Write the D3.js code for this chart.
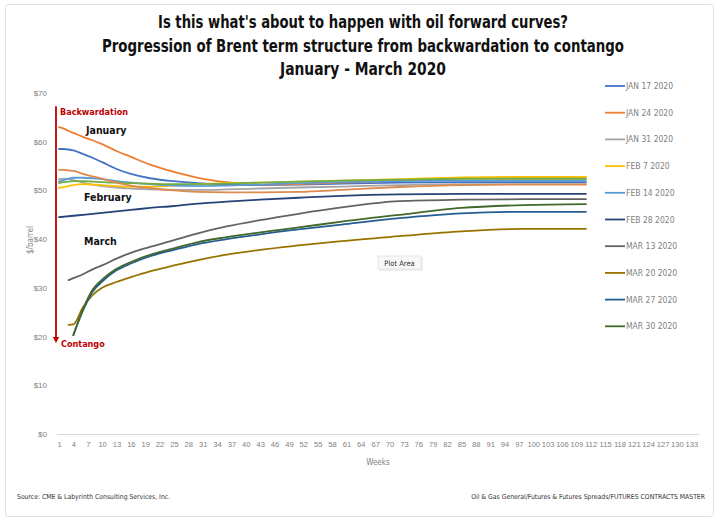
<!DOCTYPE html>
<html>
<head>
<meta charset="utf-8">
<script src="https://cdn.jsdelivr.net/npm/d3@7"></script>
<style>
  body { margin: 0; background: #fff; }
  text { font-family: "Liberation Sans Narrow", "DejaVu Sans Condensed", "Liberation Sans", sans-serif; }
</style>
</head>
<body>
<div id="chart"></div>
<script>
// Chart values
var weeks = [1, 2, 3, 4, 6, 8, 10, 13, 16, 20, 25, 30, 36, 43, 51, 60, 72, 85, 98, 111];

var jan17 = [58.5, 58.5, 58.4, 58.2, 57.5, 56.7, 55.8, 54.4, 53.4, 52.5, 51.9, 51.5, 51.2, 51.1, 51.2, 51.4, 51.6, 51.7, 51.7, 51.7];
var jan24 = [63.0, 62.7, 62.2, 61.8, 61.0, 60.3, 59.5, 58.1, 56.9, 55.3, 53.8, 52.6, 51.7, 51.2, 51.3, 51.6, 52.0, 52.5, 52.5, 52.5];
var jan31 = [52.3, 52.4, 52.3, 52.1, 51.6, 51.2, 50.9, 50.6, 50.4, 50.2, 50.1, 50.1, 50.2, 50.4, 50.6, 50.8, 51.1, 51.3, 51.3, 51.3];
var feb7  = [50.5, 50.7, 50.9, 51.1, 51.3, 51.2, 51.1, 50.9, 50.8, 50.8, 51.0, 51.3, 51.5, 51.6, 51.8, 52.0, 52.3, 52.7, 52.8, 52.8];
var feb14 = [51.8, 52.1, 52.4, 52.6, 52.6, 52.5, 52.3, 51.9, 51.6, 51.3, 51.0, 50.9, 51.0, 51.2, 51.5, 51.7, 51.9, 52.0, 52.0, 52.0];
var feb21 = [51.5, 51.7, 51.8, 51.9, 51.9, 51.8, 51.7, 51.6, 51.5, 51.4, 51.3, 51.3, 51.4, 51.6, 51.8, 52.0, 52.2, 52.4, 52.4, 52.4];
var feb28 = [44.5, 44.6, 44.7, 44.8, 45.0, 45.2, 45.4, 45.7, 46.0, 46.4, 46.8, 47.3, 47.7, 48.1, 48.5, 48.9, 49.2, 49.3, 49.3, 49.3];
var mar6  = [54.2, 54.2, 54.1, 54.0, 53.4, 52.9, 52.4, 51.6, 51.0, 50.5, 50.0, 49.7, 49.6, 49.6, 49.7, 50.1, 50.7, 51.1, 51.2, 51.2];
var mar13 = [null, null, 31.6, 32.0, 32.8, 33.8, 34.6, 36.0, 37.2, 38.4, 39.8, 41.2, 42.6, 43.9, 45.2, 46.5, 47.8, 48.1, 48.2, 48.2];
var mar20 = [null, null, 22.4, 22.5, 26.0, 28.5, 30.0, 31.2, 32.2, 33.4, 34.6, 35.7, 36.8, 37.8, 38.7, 39.6, 40.6, 41.6, 42.1, 42.1];
var mar27 = [null, null, null, 20.3, 25.3, 29.2, 31.3, 33.6, 35.0, 36.5, 37.8, 39.0, 40.0, 41.0, 42.0, 43.0, 44.3, 45.3, 45.6, 45.6];
var mar30 = [null, null, null, 20.3, 25.6, 29.6, 31.7, 33.9, 35.3, 36.8, 38.1, 39.4, 40.4, 41.4, 42.4, 43.6, 45.0, 46.4, 47.0, 47.2];

var seriesNames = ["JAN 17 2020", "JAN 24 2020", "JAN 31 2020", "FEB 7 2020", "FEB 14 2020", "FEB 21 2020",
                   "FEB 28 2020", "MAR 6 2020", "MAR 13 2020", "MAR 20 2020", "MAR 27 2020", "MAR 30 2020"];
var seriesValues = [jan17, jan24, jan31, feb7, feb14, feb21, feb28, mar6, mar13, mar20, mar27, mar30];
// only these entries are left in the legend
var legendNames = ["JAN 17 2020", "JAN 24 2020", "JAN 31 2020", "FEB 7 2020", "FEB 14 2020",
                   "FEB 28 2020", "MAR 13 2020", "MAR 20 2020", "MAR 27 2020", "MAR 30 2020"];

var yTicks = [0, 10, 20, 30, 40, 50, 60, 70];
var xTickLabels = d3.range(1, 134, 3);

// Excel office palette
var colors = ["#4472C4", "#ED7D31", "#A5A5A5", "#FFC000", "#5B9BD5", "#70AD47",
              "#264478", "#DC8A4E", "#636363", "#997300", "#255E91", "#43682B"];

var svgWidth = 720;
var svgHeight = 523;

var svg = d3.select("#chart")
  .append("svg")
  .attr("width", svgWidth)
  .attr("height", svgHeight);

// outer frame
svg.append("rect")
  .attr("x", 5.5).attr("y", 4.5)
  .attr("width", 708).attr("height", 512)
  .attr("rx", 3)
  .attr("fill", "#fff")
  .attr("stroke", "#e0e0e0");

// Titles
var titles = [
  ["Is this what's about to happen with oil forward curves?", 28, 410],
  ["Progression of Brent term structure from backwardation to contango", 52, 522],
  ["January - March 2020", 75, 166]
];
svg.selectAll(".title")
  .data(titles)
  .enter()
  .append("text")
  .attr("class", "title")
  .attr("x", 363)
  .attr("y", d => d[1])
  .attr("text-anchor", "middle")
  .attr("font-size", "17px")
  .attr("font-weight", "bold")
  .attr("fill", "#111")
  .attr("textLength", d => d[2])
  .attr("lengthAdjust", "spacingAndGlyphs")
  .text(d => d[0]);

// Scales
var x = d3.scaleLinear().domain([0.5, 134.5]).range([56.6, 698.5]);
var y = d3.scaleLinear().domain([0, 70]).range([434, 93]);

// Y axis (labels only)
var yAxis = svg.append("g")
  .attr("transform", "translate(56, 0)")
  .call(d3.axisLeft(y).tickValues(yTicks).tickSize(0).tickPadding(9).tickFormat(d => "$" + d));
yAxis.select(".domain").remove();
yAxis.selectAll("text")
  .attr("font-size", "8px")
  .attr("fill", "#7f7f7f")
  .style("font-family", "'Liberation Sans', sans-serif");

// X axis
var xAxis = svg.append("g")
  .attr("transform", "translate(0, 434)")
  .call(d3.axisBottom(x).tickValues(xTickLabels).tickSize(0).tickPadding(8).tickFormat(d3.format("d")));
xAxis.select(".domain").attr("stroke", "#d9d9d9").attr("stroke-width", 1);
xAxis.selectAll("text")
  .attr("font-size", "7.6px")
  .attr("fill", "#7f7f7f")
  .style("font-family", "'Liberation Sans Narrow', 'Liberation Sans', sans-serif");

// Axis titles
svg.append("text")
  .attr("transform", "translate(33, 240) rotate(-90)")
  .attr("text-anchor", "middle")
  .attr("font-size", "8px")
  .attr("fill", "#7f7f7f")
  .text("$/barrel");

svg.append("text")
  .attr("x", 378)
  .attr("y", 465)
  .attr("text-anchor", "middle")
  .attr("font-size", "8px")
  .attr("fill", "#7f7f7f")
  .text("Weeks");

// Lines
var line = d3.line()
  .defined(d => d[1] !== null)
  .x(d => x(d[0]))
  .y(d => y(d[1]))
  .curve(d3.curveMonotoneX);

var seriesData = seriesValues.map(function(vals, i) {
  return { name: seriesNames[i], color: colors[i], points: weeks.map((w, j) => [w, vals[j]]) };
});

svg.append("g")
  .selectAll("path")
  .data(seriesData)
  .enter()
  .append("path")
  .attr("d", d => line(d.points))
  .attr("fill", "none")
  .attr("stroke", d => d.color)
  .attr("stroke-width", 1.8)
  .attr("stroke-linecap", "round");

// Backwardation -> Contango arrow
svg.append("defs").append("marker")
  .attr("id", "arrow")
  .attr("viewBox", "0 0 10 10")
  .attr("refX", 5).attr("refY", 5)
  .attr("markerWidth", 3.5).attr("markerHeight", 3.5)
  .attr("orient", "auto")
  .append("path")
  .attr("d", "M0,0 L10,5 L0,10 z")
  .attr("fill", "#C00000");

svg.append("line")
  .attr("x1", 56).attr("x2", 56)
  .attr("y1", y(67.3)).attr("y2", y(19.3))
  .attr("stroke", "#C00000")
  .attr("stroke-width", 1.8)
  .attr("marker-end", "url(#arrow)");

svg.append("text")
  .attr("x", 60).attr("y", 115)
  .attr("font-size", "9px").attr("font-weight", "bold")
  .attr("fill", "#C00000")
  .text("Backwardation");

svg.append("text")
  .attr("x", 61).attr("y", 347)
  .attr("font-size", "9px").attr("font-weight", "bold")
  .attr("fill", "#C00000")
  .text("Contango");

// Month annotations
var notes = [["January", 86, 134], ["February", 84, 201], ["March", 84, 245]];
svg.selectAll(".note")
  .data(notes)
  .enter()
  .append("text")
  .attr("class", "note")
  .attr("x", d => d[1])
  .attr("y", d => d[2])
  .attr("font-size", "10.5px")
  .attr("font-weight", "bold")
  .attr("fill", "#111")
  .text(d => d[0]);

// Legend
var legend = svg.append("g");
var legendItems = legend.selectAll("g")
  .data(legendNames)
  .enter()
  .append("g")
  .attr("transform", (d, i) => `translate(605, ${86 + i * 26.7})`);

legendItems.append("line")
  .attr("x1", 0).attr("x2", 20)
  .attr("stroke", d => colors[seriesNames.indexOf(d)])
  .attr("stroke-width", 1.8);

legendItems.append("text")
  .attr("x", 21)
  .attr("y", 3)
  .attr("font-size", "8.5px")
  .attr("fill", "#7f7f7f")
  .text(d => d);

// "Plot Area" tooltip left on the screenshot
var tip = svg.append("g").attr("transform", "translate(378, 256)");
tip.append("rect")
  .attr("x", 1).attr("y", 1)
  .attr("width", 44).attr("height", 14)
  .attr("fill", "#e6e6e6").attr("opacity", 0.6);
tip.append("rect")
  .attr("width", 43).attr("height", 13)
  .attr("fill", "#f8f8f8")
  .attr("stroke", "#d0d0d0").attr("stroke-width", 0.5);
tip.append("text")
  .attr("x", 21.5).attr("y", 9.5)
  .attr("text-anchor", "middle")
  .attr("font-size", "7.5px")
  .attr("fill", "#333")
  .text("Plot Area");

// Footer notes
svg.append("text")
  .attr("x", 17).attr("y", 499)
  .attr("font-size", "6.8px")
  .attr("fill", "#333")
  .text("Source: CME & Labyrinth Consulting Services, Inc.");

svg.append("text")
  .attr("x", 705).attr("y", 499)
  .attr("text-anchor", "end")
  .attr("font-size", "6.8px")
  .attr("fill", "#333")
  .text("Oil & Gas General/Futures & Futures Spreads/FUTURES CONTRACTS MASTER");
</script>
</body>
</html>
